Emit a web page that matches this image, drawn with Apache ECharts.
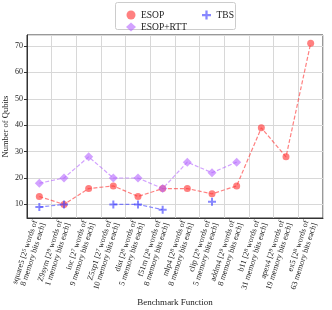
<!DOCTYPE html>
<html><head><meta charset="utf-8">
<script src="https://cdn.jsdelivr.net/npm/echarts@6/dist/echarts.min.js"></script>
<style>html,body{margin:0;padding:0;background:#fff}#c{width:332px;height:310px}</style>
</head><body><div id="c"></div>
<script>
const names = ['square5','Z9sym','inc','Z5xp1','dist','f51m','mlp4','clip','addm4','b11','apex4','ex5'];
const wordExp = ['5','9','7','7','8','8','8','9','9','8','9','8'];
const memBits = ['8','1','9','10','5','8','8','5','8','31','19','63'];
const esop    = [13,10,16,17,13,16,16,14,17,39,28,71];
const esopRtt = [18,20,28,20,20,16,26,22,26,null,null,null];
const tbs     = [9,10,null,10,10,8,null,11,null,null,null,null];
const yMin = 4.85, yMax = 74.15;

const serif = 'Liberation Serif';
const cats = names.map((n,i)=>n+' [2{s|'+wordExp[i]+'} words of\n'+memBits[i]+' memory bits each]');
const red = 'rgba(255,60,60,0.65)', purple = 'rgba(180,100,255,0.6)', blue = 'rgba(70,70,255,0.65)';
const plusPath = 'path://M3,0H5V3H8V5H5V8H3V5H0V3H3Z';

const chart = echarts.init(document.getElementById('c'), null, {renderer:'canvas'});
chart.setOption({
  animation:false,
  backgroundColor:'#fff',
  textStyle:{fontFamily:serif},
  grid:{left:27,right:9,top:35,bottom:92,show:true,borderColor:'#333',borderWidth:1,backgroundColor:'transparent',
        containLabel:false,outerBoundsMode:'none'},
  legend:[{
    left:121, top:5, orient:'vertical', itemGap:2, itemWidth:10, itemHeight:9,
    textStyle:{fontFamily:serif,fontSize:9.5,color:'#222'},
    data:[{name:'ESOP',icon:'circle'},{name:'ESOP+RTT',icon:'diamond'}]
  },{
    left:197, top:5, orient:'vertical', itemWidth:10, itemHeight:9,
    textStyle:{fontFamily:serif,fontSize:9.5,color:'#222'},
    data:[{name:'TBS',icon:plusPath}]
  }],
  graphic:[{type:'rect',shape:{x:115.5,y:2.5,width:120,height:27,r:2},style:{fill:'none',stroke:'#ccc',lineWidth:1},z:-1}],
  xAxis:{
    type:'category', data:cats, boundaryGap:true,
    name:'Benchmark Function', nameLocation:'middle', nameGap:80, nameMoveOverlap:false,
    nameTextStyle:{fontFamily:serif,fontSize:9,color:'#222'},
    axisLine:{lineStyle:{color:'#333'}},
    axisTick:{alignWithLabel:true,length:3,lineStyle:{color:'#333'}},
    splitLine:{show:true,lineStyle:{color:'#d8d8d8',width:1}},
    axisLabel:{interval:0,rotate:72,margin:4,fontFamily:serif,fontSize:8,color:'#222',align:'right',lineHeight:8.5,
      hideOverlap:false,
      rich:{s:{fontSize:5.5,verticalAlign:'top',fontFamily:serif,color:'#222'}}}
  },
  yAxis:{
    type:'value', min:yMin, max:yMax, splitNumber:7,
    name:'Number of Qubits', nameLocation:'middle', nameGap:17, nameMoveOverlap:false,
    nameTextStyle:{fontFamily:serif,fontSize:8.5,color:'#222'},
    axisLine:{show:true,lineStyle:{color:'#333'}},
    axisTick:{show:true,length:3,lineStyle:{color:'#333'}},
    splitLine:{show:true,lineStyle:{color:'#d8d8d8',width:1}},
    axisLabel:{showMinLabel:false,showMaxLabel:false,margin:4,fontFamily:serif,fontSize:8,color:'#222'}
  },
  series:[
    {name:'ESOP',type:'line',data:esop,symbol:'circle',symbolSize:7,
     itemStyle:{color:red},lineStyle:{color:red,type:[4,2],width:1.2}},
    {name:'ESOP+RTT',type:'line',data:esopRtt,symbol:'diamond',symbolSize:9,
     itemStyle:{color:purple},lineStyle:{color:purple,type:[4,2],width:1.2}},
    {name:'TBS',type:'line',data:tbs,symbol:plusPath,symbolSize:8,
     itemStyle:{color:blue},lineStyle:{color:blue,type:[4,2],width:1.2}}
  ]
});
</script></body></html>
